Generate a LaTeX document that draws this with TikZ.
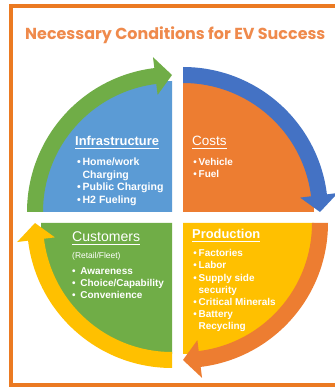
\documentclass[tikz,border=0pt]{standalone}
\usepackage{fontspec}
\setmainfont{Liberation Sans}
\newfontfamily\titlefont{Poppins}
\usepackage{xcolor}
\usetikzlibrary{positioning,calc}

\definecolor{qblue}{HTML}{5B9BD5}
\definecolor{qorange}{HTML}{ED7D31}
\definecolor{qgreen}{HTML}{70AD47}
\definecolor{qyellow}{HTML}{FFC000}
\definecolor{ablue}{HTML}{4472C4}
\definecolor{framecol}{HTML}{EB7A22}
\definecolor{titlecol}{HTML}{EF8A4C}

% bullet lines
\newcommand{\bul}[1]{\makebox[4.6pt][l]{\textbullet}#1}
\newcommand{\bulw}[1]{\makebox[7pt][l]{\textbullet}#1}
\newcommand{\cnt}[1]{\hspace*{4.6pt}#1}

% curved arrow round a quadrant corner, clockwise from #2 to #2-90
\newcommand{\cycarrow}[3]{%
  \fill[#3] ($(#1)+(#2:145)$) arc[start angle=#2, end angle=#2-83, radius=145]
    -- ($(#1)+(#2-83:156)$) -- ($(#1)+(#2-90:137)$) -- ($(#1)+(#2-83:118)$)
    -- ($(#1)+(#2-83:129)$) arc[start angle=#2-83, end angle=#2, radius=129] -- cycle;}

\begin{document}
\begin{tikzpicture}[
    x=0.03cm, y=0.03cm,
    hd/.style={text=white, inner sep=0pt, anchor=base west},
    lst/.style={text=white, inner sep=0pt, align=left,
                font=\bfseries\fontsize{8.5}{10.4}\selectfont},
  ]
  \clip (0,0) rectangle (335,387);
  \fill[white] (0,0) rectangle (335,387);

  % frame and title
  \draw[framecol, line width=0.12cm] (11.3,2) rectangle (345,381);
  \node[anchor=base west, inner sep=0pt, text=titlecol,
        font=\titlefont\bfseries\fontsize{13.6}{16}\selectfont] (title) at (25,347)
        {Necessary Conditions for EV Success};

  % quadrant corners
  \coordinate (tl) at (172,175);
  \coordinate (tr) at (183,175);
  \coordinate (br) at (183,164);
  \coordinate (bl) at (172,164);

  % Quadrants
  \fill[qblue] (tl) -- ++(-131,0) arc[start angle=180, end angle=90, radius=131] -- cycle;
  \fill[qorange] (tr) -- ++(0,131) arc[start angle=90, end angle=0, radius=131] -- cycle;
  \fill[qyellow] (br) -- ++(131,0) arc[start angle=0, end angle=-90, radius=131] -- cycle;
  \fill[qgreen] (bl) -- ++(0,-131) arc[start angle=270, end angle=180, radius=131] -- cycle;

  % Arrows
  \cycarrow{tl}{180}{qgreen}
  \cycarrow{tr}{90}{ablue}
  \cycarrow{br}{0}{qorange}
  \cycarrow{bl}{-90}{qyellow}

  % Texts
  \node[hd, font=\bfseries\fontsize{11}{13}\selectfont] (infra) at (75,241) {\underline{Infrastructure}};
  \node[lst, below=9.7pt of infra.base west, anchor=north west, xshift=1.7pt, font=\bfseries\fontsize{9}{10.9}\selectfont] (infral)
    {\bul{Home/work}\\\cnt{Charging}\\\bul{Public Charging}\\\bul{H2 Fueling}};

  \node[hd, font=\fontsize{11.5}{13}\selectfont] (costs) at (192,241) {\underline{Costs}};
  \node[lst, below=10.4pt of costs.base west, anchor=north west, xshift=0.9pt] (costsl)
    {\bul{Vehicle}\\\bul{Fuel}};

  \node[hd, font=\fontsize{12}{14}\selectfont] (cust) at (72,145) {\underline{Customers}};
  \node[lst, below=8.4pt of cust.base west, anchor=north west] (custl)
    {{\mdseries\fontsize{7.2}{9}\selectfont(Retail/Fleet)}\\[3.5pt]
     \bulw{Awareness}\\\bulw{Choice/Capability}\\\bulw{Convenience}};

  \node[hd, font=\bfseries\fontsize{11}{13}\selectfont] (prod) at (192,148) {\underline{Production}};
  \node[lst, below=8.8pt of prod.base west, anchor=north west, xshift=0.9pt] (prodl)
    {\bul{Factories}\\\bul{Labor}\\\bul{Supply side}\\\cnt{security}\\\bul{Critical Minerals}\\\bul{Battery}\\\cnt{Recycling}};
\end{tikzpicture}
\end{document}
